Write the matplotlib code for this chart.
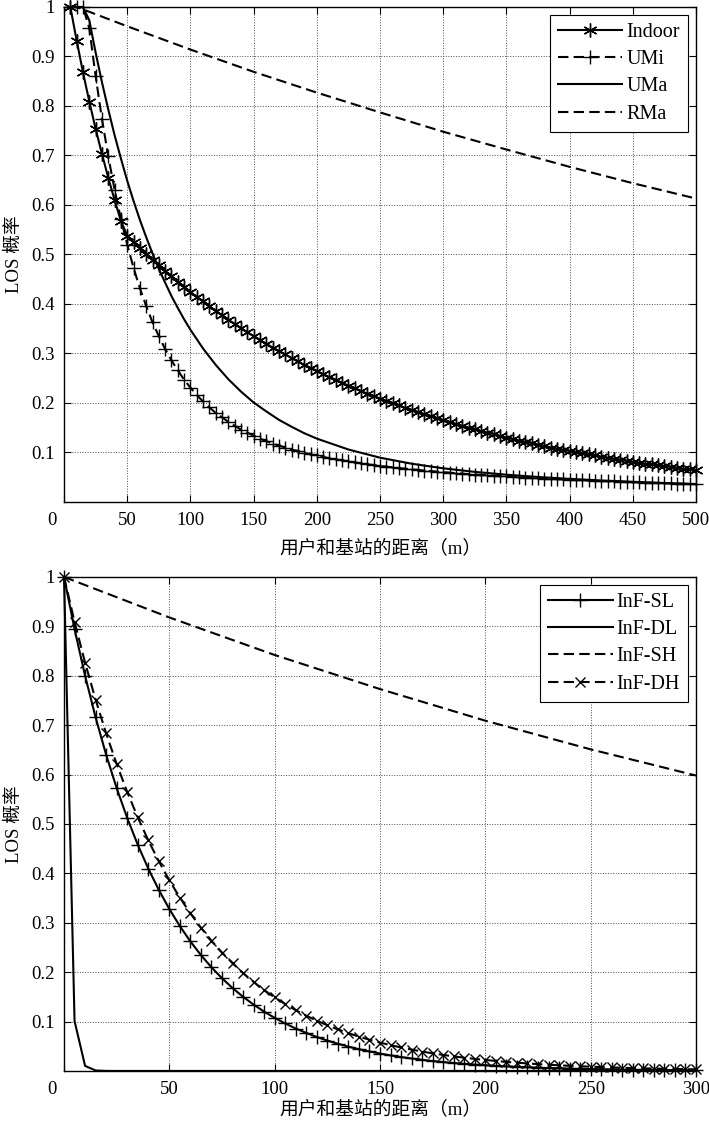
import numpy as np
import matplotlib
matplotlib.use("Agg")
import matplotlib.pyplot as plt
from matplotlib.transforms import ScaledTranslation

plt.rcParams['font.family'] = ['Liberation Serif', 'Noto Sans CJK SC', 'DejaVu Sans']
plt.rcParams['font.size'] = 13.5

# -------------------------------
# Top panel: Indoor / UMi / UMa / RMa
# -------------------------------
d_top = np.arange(5, 505, 5)

indoor = [1.000, 0.932, 0.868, 0.809, 0.754, 0.703, 0.655, 0.610, 0.568, 0.538,
          0.525, 0.513, 0.501, 0.489, 0.478, 0.466, 0.456, 0.445, 0.435, 0.424,
          0.414, 0.405, 0.395, 0.386, 0.377, 0.368, 0.360, 0.351, 0.343, 0.335,
          0.327, 0.320, 0.312, 0.305, 0.298, 0.291, 0.284, 0.277, 0.271, 0.265,
          0.258, 0.252, 0.247, 0.241, 0.235, 0.230, 0.224, 0.219, 0.214, 0.209,
          0.204, 0.199, 0.195, 0.190, 0.186, 0.181, 0.177, 0.173, 0.169, 0.165,
          0.161, 0.157, 0.154, 0.150, 0.147, 0.143, 0.140, 0.137, 0.133, 0.130,
          0.127, 0.124, 0.121, 0.119, 0.116, 0.113, 0.110, 0.108, 0.105, 0.103,
          0.100, 0.098, 0.096, 0.094, 0.091, 0.089, 0.087, 0.085, 0.083, 0.081,
          0.079, 0.077, 0.076, 0.074, 0.072, 0.071, 0.069, 0.067, 0.066, 0.064]

umi = [1.000, 1.000, 1.000, 0.957, 0.860, 0.774, 0.698, 0.631, 0.572, 0.520,
       0.473, 0.432, 0.396, 0.363, 0.335, 0.309, 0.286, 0.266, 0.247, 0.231,
       0.216, 0.203, 0.191, 0.180, 0.171, 0.162, 0.154, 0.146, 0.140, 0.134,
       0.128, 0.123, 0.118, 0.114, 0.110, 0.106, 0.103, 0.099, 0.096, 0.094,
       0.091, 0.088, 0.086, 0.084, 0.082, 0.080, 0.078, 0.076, 0.0745, 0.0729,
       0.0714, 0.0700, 0.0686, 0.0672, 0.0659, 0.0647, 0.0635, 0.0624, 0.0613, 0.0602,
       0.0592, 0.0582, 0.0573, 0.0564, 0.0555, 0.0547, 0.0538, 0.0530, 0.0522, 0.0515,
       0.0508, 0.0500, 0.0494, 0.0487, 0.0480, 0.0474, 0.0468, 0.0462, 0.0456, 0.0450,
       0.0444, 0.0439, 0.0434, 0.0429, 0.0424, 0.0419, 0.0414, 0.0409, 0.0405, 0.0400,
       0.0396, 0.0391, 0.0387, 0.0383, 0.0379, 0.0375, 0.0371, 0.0367, 0.0364, 0.0360]

d_uma = [5, 10, 15, 20, 25, 30, 35, 40, 45, 50, 55, 60, 65, 70, 75, 80, 85, 90, 95, 100,
         110, 120, 130, 140, 150, 160, 170, 180, 190, 200,
         225, 250, 275, 300, 325, 350, 375, 400, 425, 450, 475, 500]
uma = [1.000, 1.000, 1.000, 0.973, 0.908, 0.848, 0.793, 0.741, 0.694, 0.649,
       0.608, 0.570, 0.535, 0.502, 0.471, 0.443, 0.416, 0.392, 0.369, 0.348,
       0.310, 0.277, 0.248, 0.223, 0.201, 0.183, 0.166, 0.152, 0.139, 0.128,
       0.106, 0.0895, 0.0773, 0.0680, 0.0608, 0.0551, 0.0505, 0.0467, 0.0435, 0.0408,
       0.0384, 0.0363]

d_rma = [5, 10, 50, 100, 150, 200, 250, 300, 350, 400, 450, 500]
rma = [1.000, 1.000, 0.961, 0.914, 0.869, 0.827, 0.787, 0.748, 0.712, 0.677, 0.644, 0.613]

# -------------------------------
# Bottom panel: InF
# -------------------------------
d_bot = np.arange(0, 305, 5)

inf_sl = [1.000, 0.8944, 0.8000, 0.7155, 0.6400, 0.5724, 0.5120, 0.4579, 0.4096, 0.3664,
          0.3277, 0.2931, 0.2621, 0.2345, 0.2097, 0.1876, 0.1678, 0.1501, 0.1342, 0.1201,
          0.1074, 0.0961, 0.0859, 0.0769, 0.0687, 0.0615, 0.0550, 0.0492, 0.0440, 0.0394,
          0.0352, 0.0315, 0.0281, 0.0252, 0.0225, 0.0201, 0.0180, 0.0161, 0.0144, 0.0129,
          0.0115, 0.0103, 0.0092, 0.0083, 0.0074, 0.0066, 0.0059, 0.0053, 0.0047, 0.0042,
          0.0038, 0.0034, 0.0030, 0.0027, 0.0024, 0.0022, 0.0019, 0.0017, 0.0016, 0.0014,
          0.0012]

d_dl = [0, 5, 10, 15, 20, 25, 300]
inf_dl = [1.000, 0.101, 0.0102, 0.0010, 0.0001, 0.0000, 0.0000]

d_sh = [0, 50, 100, 150, 200, 250, 300]
inf_sh = [1.000, 0.918, 0.842, 0.773, 0.709, 0.651, 0.598]

inf_dh = [1.000, 0.9092, 0.8265, 0.7515, 0.6832, 0.6212, 0.5647, 0.5134, 0.4668, 0.4244,
          0.3858, 0.3508, 0.3189, 0.2899, 0.2636, 0.2397, 0.2179, 0.1981, 0.1801, 0.1637,
          0.1489, 0.1353, 0.1230, 0.1119, 0.1017, 0.0925, 0.0841, 0.0764, 0.0695, 0.0632,
          0.0574, 0.0522, 0.0475, 0.0432, 0.0392, 0.0357, 0.0324, 0.0295, 0.0268, 0.0244,
          0.0222, 0.0202, 0.0183, 0.0167, 0.0152, 0.0138, 0.0125, 0.0114, 0.0104, 0.0094,
          0.0086, 0.0078, 0.0071, 0.0064, 0.0059, 0.0053, 0.0048, 0.0044, 0.0040, 0.0036,
          0.0033]

yticks = [0.1, 0.2, 0.3, 0.4, 0.5, 0.6, 0.7, 0.8, 0.9, 1.0]
ytick_labels = ['0.1', '0.2', '0.3', '0.4', '0.5', '0.6', '0.7', '0.8', '0.9', '1']
xlabel = '用户和基站的距离（m）'
ylabel = 'LOS 概率'

fig = plt.figure(figsize=(7.09, 11.24), dpi=100)
ax1 = fig.add_axes([0.0903, 0.5534, 0.8914, 0.4404])
ax2 = fig.add_axes([0.0903, 0.0472, 0.8914, 0.4395])

lw = 1.5
dash = (5, 2.5)
asterisk = (6, 2, 0)

ax1.plot(d_top, indoor, color='k', lw=lw, marker=asterisk, ms=10, mew=1.0, label='Indoor', clip_on=False)
ax1.plot(d_top, umi, color='k', lw=lw, ls='--', dashes=dash, marker='+', ms=10, mew=1.0, label='UMi', clip_on=False)
ax1.plot(d_uma, uma, color='k', lw=lw, label='UMa', clip_on=False)
ax1.plot(d_rma, rma, color='k', lw=lw, ls='--', dashes=dash, label='RMa', clip_on=False)

ax2.plot(d_bot, inf_sl, color='k', lw=lw, marker='+', ms=10, mew=1.0, label='InF-SL', clip_on=False)
ax2.plot(d_dl, inf_dl, color='k', lw=lw, label='InF-DL', clip_on=False)
ax2.plot(d_sh, inf_sh, color='k', lw=lw, ls='--', dashes=dash, label='InF-SH', clip_on=False)
ax2.plot(d_bot, inf_dh, color='k', lw=lw, ls='--', dashes=dash, marker='x', ms=7, mew=1.0, label='InF-DH', clip_on=False)

for ax, xmax, xt, lpad in [(ax1, 500, np.arange(0, 550, 50), 8), (ax2, 300, np.arange(0, 350, 50), 2)]:
    ax.set_xlim(0, xmax)
    ax.set_ylim(0, 1)
    ax.set_xticks(xt)
    ax.set_yticks(yticks)
    ax.set_yticklabels(ytick_labels)
    ax.grid(True, ls=':', color='0.3', lw=0.7)
    ax.tick_params(direction='in', top=True, right=True, length=5, width=0.8, pad=7)
    for s in ax.spines.values():
        s.set_linewidth(1.0)
    ax.set_xlabel(xlabel, labelpad=lpad)
    ax.set_ylabel(ylabel, labelpad=6)
    # the "0" sits a bit to the left of the corner
    lab0 = ax.get_xticklabels()[0]
    lab0.set_transform(lab0.get_transform() + ScaledTranslation(-9 / 72, 0, fig.dpi_scale_trans))
    leg = ax.legend(loc='upper right', fancybox=False, edgecolor='k', framealpha=1,
                    fontsize=14.5, handlelength=3.2, labelspacing=0.4, borderaxespad=0.4,
                    handletextpad=0.2, borderpad=0.4)
    leg.get_frame().set_linewidth(0.8)

fig.savefig('out.png', dpi=100)
